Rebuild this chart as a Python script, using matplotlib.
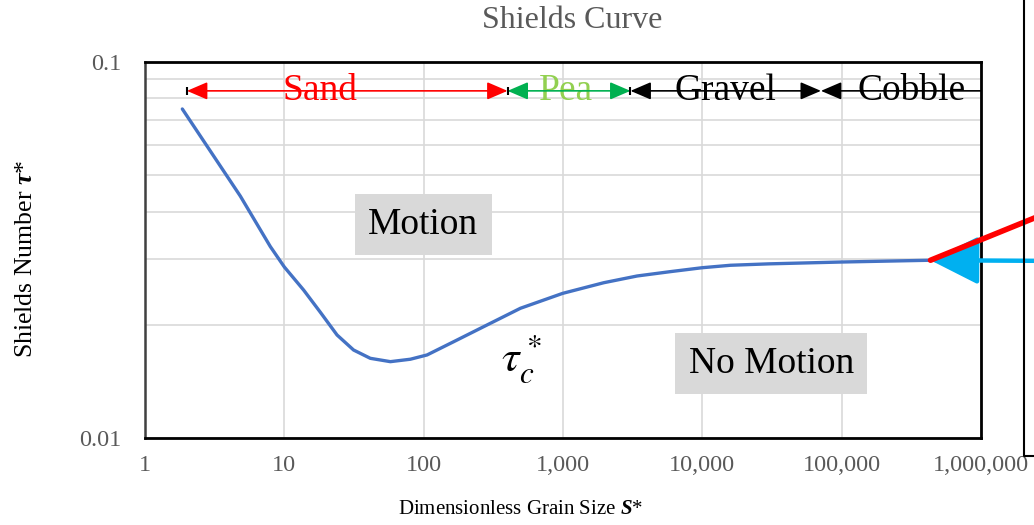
import matplotlib
matplotlib.use("Agg")
import matplotlib.pyplot as plt
from matplotlib.lines import Line2D
from matplotlib.ticker import FixedLocator, NullFormatter

# ---------------- data ----------------
S_star = [1.853, 4.83, 7.93, 10.0, 13.76, 18.13, 23.9, 31.4, 41.4, 57.7, 80.3, 105.8,
          164, 285, 494.6, 995, 1960, 3404, 5902, 9968, 15920, 30000, 100000, 434000]
tau_star = [0.0750, 0.0440, 0.0323, 0.0285, 0.02474, 0.02160, 0.01879, 0.01714,
            0.01629, 0.01596, 0.01620, 0.01663, 0.01803, 0.01998, 0.02213, 0.02425,
            0.02588, 0.02697, 0.02770, 0.02837, 0.02880, 0.02905, 0.02938, 0.02970]

x_ticks = [1, 10, 100, 1000, 10000, 100000, 1000000]
x_tick_labels = ["1", "10", "100", "1,000", "10,000", "100,000", "1,000,000"]
y_ticks = [0.01, 0.1]
y_tick_labels = ["0.01", "0.1"]
y_minor = [0.02, 0.03, 0.04, 0.05, 0.06, 0.07, 0.08, 0.09]

size_classes = ["Sand", "Pea", "Gravel", "Cobble"]
class_bounds = [(2.0, 400), (400, 3050), (3050, 71000), (71000, 1000000)]
class_label_x = [18, 1042, 14600, 315000]
class_arrow_y = 0.0838
class_text_y = 0.0793

plt.rcParams['font.family'] = ['Liberation Serif', 'DejaVu Serif']
plt.rcParams['mathtext.fontset'] = 'custom'
plt.rcParams['mathtext.rm'] = 'Liberation Serif'
plt.rcParams['mathtext.it'] = 'Liberation Serif:italic'
plt.rcParams['mathtext.bf'] = 'Liberation Serif:bold'
plt.rcParams['mathtext.bfit'] = 'Liberation Serif:bold:italic'

W, H = 1034, 525
fig = plt.figure(figsize=(W / 100, H / 100), dpi=100)
ax = fig.add_axes([145 / W, 1 - 438 / H, (981 - 145) / W, (438 - 62) / H])

ax.set_xscale('log')
ax.set_yscale('log')
ax.set_xlim(1, 1e6)
ax.set_ylim(0.01, 0.1)

ax.xaxis.set_major_locator(FixedLocator(x_ticks))
ax.set_xticklabels(x_tick_labels)
ax.xaxis.set_minor_locator(FixedLocator([]))
ax.yaxis.set_major_locator(FixedLocator(y_ticks))
ax.set_yticklabels(y_tick_labels)
ax.yaxis.set_minor_locator(FixedLocator(y_minor))
ax.yaxis.set_minor_formatter(NullFormatter())

ax.tick_params(which='both', length=0)
ax.tick_params(axis='x', labelsize=17.5, labelcolor='#595959', pad=12)
ax.tick_params(axis='y', labelsize=17.5, labelcolor='#595959', pad=17)

ax.grid(True, which='major', axis='x', color='#d9d9d9', lw=1.2)
ax.grid(True, which='both', axis='y', color='#d9d9d9', lw=1.2)
ax.set_axisbelow(True)

for s in ['top', 'right', 'bottom']:
    ax.spines[s].set_color('black')
    ax.spines[s].set_linewidth(2)
ax.spines['left'].set_color('#404040')
ax.spines['left'].set_linewidth(1.8)

# curve
ax.plot(S_star, tau_star, color='#4472C4', lw=2.4, solid_capstyle='round',
        solid_joinstyle='round', zorder=3)

# size classes
class_colors = ['#FF0000', '#00B050', 'black', 'black']
text_colors = ['#FF0000', '#92D050', 'black', 'black']
styles = ['<|-|>', '<|-|>', '<|-|>', '<|-']
for name, (a, b), lx, c, tc, st in zip(size_classes, class_bounds, class_label_x,
                                        class_colors, text_colors, styles):
    ax.text(lx, class_text_y, name, color=tc, fontsize=27, ha='center', va='baseline', zorder=4)
    ax.annotate('', xy=(b, class_arrow_y), xytext=(a, class_arrow_y),
                arrowprops=dict(arrowstyle=st + ',head_length=0.7,head_width=0.3',
                                color=c, lw=1.2, shrinkA=0, shrinkB=0, mutation_scale=18),
                zorder=5)
# black end ticks
ax.plot([class_bounds[0][0], class_bounds[0][1], class_bounds[1][1]],
        [class_arrow_y] * 3, ls='none', marker='|', color='black', ms=6, mew=1.5, zorder=6)

# region labels
box = dict(boxstyle='square,pad=0.35', facecolor='#d9d9d9', edgecolor='none')
ax.text(0.333, 0.568, 'Motion', transform=ax.transAxes, fontsize=27,
        ha='center', va='center', bbox=box, zorder=4)
ax.text(0.749, 0.198, 'No Motion', transform=ax.transAxes, fontsize=27,
        ha='center', va='center', bbox=box, zorder=4)
ax.text(0.45, 0.21, r'$\tau_c^*$', transform=ax.transAxes, fontsize=32,
        ha='center', va='center', math_fontfamily='stix', zorder=4)

# title and axis labels
fig.text(572 / W, 1 - 20 / H, 'Shields Curve', fontsize=23, color='#595959',
         ha='center', va='center')
fig.text(521 / W, 1 - 510 / H, r'Dimensionless Grain Size $\mathbfit{S}$*',
         fontsize=15, ha='center', va='center')
fig.text(26 / W, 1 - 259 / H, r'Shields Number $\mathbfit{\tau}$*',
         fontsize=18.5, ha='center', va='center', rotation=90)

# external pointers to the curve end
ax.annotate('', xy=(S_star[-1], tau_star[-1]), xycoords='data',
            xytext=(1070, H - 261), textcoords='figure pixels',
            arrowprops=dict(arrowstyle='-|>,head_length=1.0,head_width=0.5',
                            color='#00B0F0', lw=3.2, shrinkA=0, shrinkB=0,
                            mutation_scale=30),
            annotation_clip=False, zorder=7)
ax.annotate('', xy=(S_star[-1], tau_star[-1]), xycoords='data',
            xytext=(1070, H - 203.5), textcoords='figure pixels',
            arrowprops=dict(arrowstyle='-', color='#FF0000', lw=4,
                            shrinkA=0, shrinkB=0),
            annotation_clip=False, zorder=8)

# frame line at right
fig.add_artist(Line2D([1024 / W, 1024 / W, 1.01], [1.01, 1 - 456 / H, 1 - 456 / H],
                      color='black', lw=1.5, transform=fig.transFigure))

fig.savefig('out.png', dpi=100)
